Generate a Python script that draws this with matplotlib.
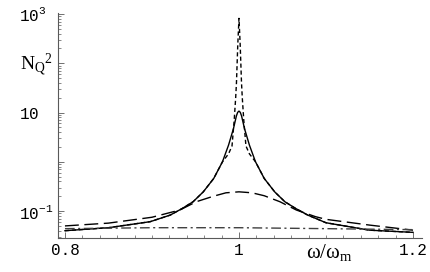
import numpy as np
import matplotlib
matplotlib.use("Agg")
import matplotlib.pyplot as plt

# --- values ---
# solid curve
omega_solid = [0.80, 0.85, 0.898, 0.921, 0.935, 0.9473, 0.959, 0.971, 0.981, 0.988,
               0.9937, 0.997, 0.9985, 1.0, 1.0015, 1.003, 1.0063, 1.012, 1.019, 1.029,
               1.041, 1.0527, 1.065, 1.079, 1.10, 1.15, 1.20]
n2_solid = [0.040, 0.046, 0.061, 0.083, 0.1135, 0.155, 0.246, 0.46, 1.0, 2.18,
            4.75, 8.5, 10.1, 10.7, 10.1, 8.5, 4.75, 2.18, 1.0, 0.46,
            0.246, 0.155, 0.1135, 0.083, 0.058, 0.041, 0.037]

# short-dashed curve (same tails as the solid one, very sharp peak)
omega_short = [0.80, 0.85, 0.898, 0.921, 0.935, 0.9473, 0.959, 0.971, 0.981, 0.988,
               0.992, 0.9945, 0.9962, 0.9971, 0.9986, 1.0, 1.0014, 1.0029, 1.0038, 1.0055,
               1.008, 1.012, 1.019, 1.029, 1.041, 1.0527, 1.065, 1.079, 1.10, 1.15, 1.20]
n2_short = [0.040, 0.046, 0.061, 0.083, 0.1135, 0.155, 0.246, 0.46, 1.0, 1.45,
            2.1, 7.0, 20.0, 40.0, 234.0, 815.0, 234.0, 40.0, 20.0, 7.0,
            2.1, 1.45, 1.0, 0.46, 0.246, 0.155, 0.1135, 0.083, 0.058, 0.041, 0.037]

# long-dashed curve (broad peak)
omega_long = [0.80, 0.85, 0.90, 0.932, 0.951, 0.9705, 0.985, 1.0, 1.015, 1.029,
              1.047, 1.066, 1.088, 1.10, 1.15, 1.20]
n2_long = [0.050, 0.057, 0.075, 0.105, 0.155, 0.20, 0.235, 0.246, 0.235, 0.205,
           0.155, 0.105, 0.077, 0.068, 0.052, 0.041]

# dash-dot curve (almost flat)
omega_dd = [0.80, 0.90, 1.0, 1.10, 1.20]
n2_dd = [0.044, 0.046, 0.046, 0.044, 0.042]

x_major = [0.8, 1.0, 1.2]
x_major_labels = ["0.8", "1", "1.2"]
y_labeled = [1e-1, 1e1, 1e3]
y_labels = [r"$\mathtt{10^{-1}}$", r"$\mathtt{10}$", r"$\mathtt{10^{3}}$"]

plt.rcParams["mathtext.fontset"] = "custom"
plt.rcParams["mathtext.rm"] = "Liberation Serif"
plt.rcParams["mathtext.it"] = "Liberation Serif:italic"
plt.rcParams["mathtext.tt"] = "Liberation Mono"

fig = plt.figure(figsize=(4.3, 2.72), dpi=100)
ax = fig.add_axes([58 / 430, 1 - 237.7 / 272, (421.7 - 58) / 430, (237.7 - 13) / 272])

ax.plot(omega_solid, n2_solid, color="black", lw=1.0, ls="-")
ax.plot(omega_short, n2_short, color="black", lw=1.0, ls=(0, (3, 2)))
ax.plot(omega_long, n2_long, color="black", lw=1.0, ls=(0, (10, 4)))
ax.plot(omega_dd, n2_dd, color="0.25", lw=1.0, ls=(0, (7, 2.5, 1.5, 2.5)))

ax.set_yscale("log")
ax.set_xlim(0.792, 1.21)
ax.set_ylim(10 ** -1.54, 10 ** 3.02)

for side in ("top", "right"):
    ax.spines[side].set_visible(False)
for side in ("left", "bottom"):
    ax.spines[side].set_color("0.35")
    ax.spines[side].set_linewidth(0.8)

# x ticks
ax.set_xticks(x_major)
ax.set_xticklabels(x_major_labels, family="Liberation Mono", fontsize=11.5)
ax.set_xticks(np.arange(0.80, 1.2001, 0.02), minor=True)
ax.tick_params(axis="x", which="major", direction="in", length=4.5, width=0.6,
               color="0.35", pad=4)
ax.tick_params(axis="x", which="minor", direction="in", length=2.2, width=0.5,
               color="0.35")

# y ticks
decades = [1e-1, 1e0, 1e1, 1e2, 1e3]
ax.set_yticks(decades)
ax.set_yticklabels([y_labels[y_labeled.index(d)] if d in y_labeled else "" for d in decades],
                   fontsize=11.5)
minor_y = [m * d for d in [1e-2, 1e-1, 1e0, 1e1, 1e2] for m in range(2, 10)]
ax.set_yticks([v for v in minor_y if 10 ** -1.54 < v < 1e3], minor=True)
ax.yaxis.set_minor_formatter(matplotlib.ticker.NullFormatter())
ax.tick_params(axis="y", which="major", direction="in", length=4.5, width=0.6,
               color="0.35", pad=28)
ax.tick_params(axis="y", which="minor", direction="in", length=2.2, width=0.5,
               color="0.35")
for lab in ax.get_yticklabels():
    lab.set_horizontalalignment("left")

fig.text(20 / 430, 1 - 70 / 272, r"$\mathrm{N_Q}^{2}$", fontsize=14, va="baseline")
fig.text(306 / 430, 1 - 258 / 272, r"$\mathrm{\omega/\omega_m}$", fontsize=15, va="baseline")

fig.savefig("out.png", dpi=100)
